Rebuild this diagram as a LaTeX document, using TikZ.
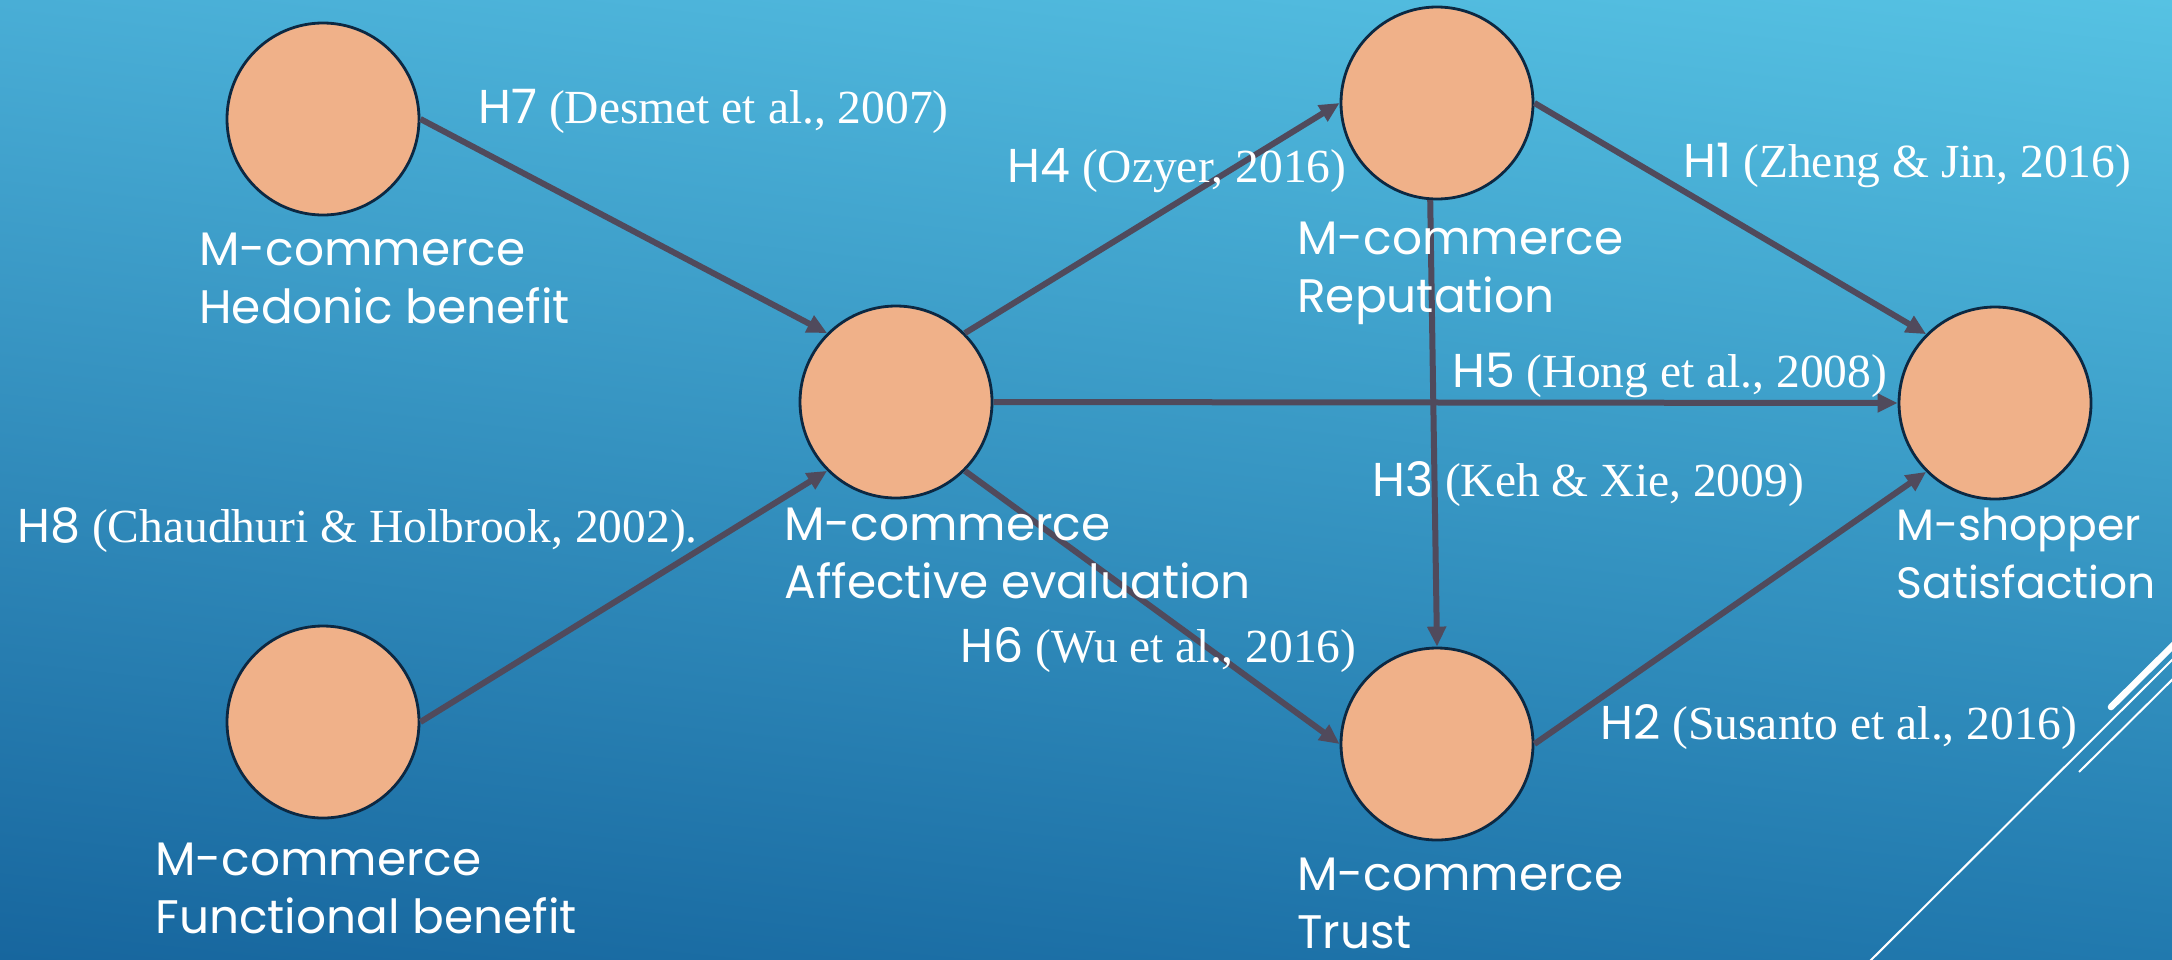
\documentclass[tikz,border=0pt]{standalone}
\usepackage{fontspec}
\setmainfont{Liberation Serif}
\setsansfont{Poppins}
\usetikzlibrary{arrows.meta,shadings}
\definecolor{bgTL}{RGB}{73,174,214}
\definecolor{bgTR}{RGB}{86,194,227}
\definecolor{bgBL}{RGB}{23,102,158}
\definecolor{bgBR}{RGB}{33,121,174}
\definecolor{circFill}{RGB}{240,177,137}
\definecolor{circEdge}{RGB}{12,40,66}
\definecolor{linkCol}{RGB}{80,74,92}
\begin{document}
\begin{tikzpicture}[x=0.5pt,y=-0.5pt,
  circ/.style={circle,draw=circEdge,fill=circFill,line width=1.4pt,minimum size=96pt,inner sep=0pt},
  link/.style={draw=linkCol,line width=3pt,-{Triangle[length=10pt,width=9pt]}},
  lab/.style={anchor=base west,inner sep=0pt,text=white,align=left,font=\sffamily\fontsize{23.5}{28.7}\selectfont},
  hyp/.style={anchor=base west,inner sep=0pt,text=white,font=\fontsize{23.75}{28}\selectfont},
  thinline/.style={draw=white,line width=1pt},
  thickline/.style={draw=white,line width=3.3pt,line cap=round}]
\useasboundingbox (0,0) rectangle (2172,959);
\shade[upper left=bgTL,upper right=bgTR,lower left=bgBL,lower right=bgBR] (0,0) rectangle (2172,959);
\begin{scope}
  \clip (0,0) rectangle (2172,959);
  \draw[thickline] (2111,707) -- (2240,579);
  \draw[thinline] (1862,969) -- (2190,642);
  \draw[thinline] (2079,772) -- (2190,662);
\end{scope}
% circles
\node[circ] (hed) at (323,119) {};
\node[circ] (fun) at (323,722) {};
\node[circ] (aff) at (896,402) {};
\node[circ] (rep) at (1437,103) {};
\node[circ] (tru) at (1437,744) {};
\node[circ] (sat) at (1995,403) {};
% connectors
\draw[link] (hed.east) -- (aff.135);
\draw[link] (fun.east) -- (aff.225);
\draw[link] (aff.45) -- (rep.west);
\draw[link] (aff.east) -- (sat.west);
\draw[link] (aff.-45) -- (tru.west);
\draw[link] (rep.east) -- (sat.135);
\draw[link] (rep.266) -- (tru.north);
\draw[link] (tru.east) -- (sat.225);
% node labels (anchored at the baseline of the last line)
\node[lab] (hedl) at (199,323) {M-commerce\\Hedonic benefit};
\node[lab] (funl) at (155,933) {M-commerce\\Functional benefit};
\node[lab] (affl) at (784,598) {M-commerce\\Affective evaluation};
\node[lab] (repl) at (1297,312) {M-commerce\\Reputation};
\node[lab] (trul) at (1297,948) {M-commerce\\Trust};
\node[lab,font=\sffamily\fontsize{22}{28.7}\selectfont] (satl) at (1896,598) {M-shopper\\Satisfaction};
% hypothesis labels
\node[hyp] (h7) at (478,123) {{\sffamily H7} (Desmet et al., 2007)};
\node[hyp] (h4) at (1007,182) {{\sffamily H4} (Ozyer, 2016)};
\node[hyp] (h1) at (1683,177) {{\sffamily H1} (Zheng \& Jin, 2016)};
\node[hyp] (h5) at (1452,387) {{\sffamily H5} (Hong et al., 2008)};
\node[hyp] (h3) at (1372,496) {{\sffamily H3} (Keh \& Xie, 2009)};
\node[hyp] (h8) at (17,542) {{\sffamily H8} (Chaudhuri \& Holbrook, 2002).};
\node[hyp] (h6) at (960,662) {{\sffamily H6} (Wu et al., 2016)};
\node[hyp] (h2) at (1600,739) {{\sffamily H2} (Susanto et al., 2016)};
\end{tikzpicture}
\end{document}
